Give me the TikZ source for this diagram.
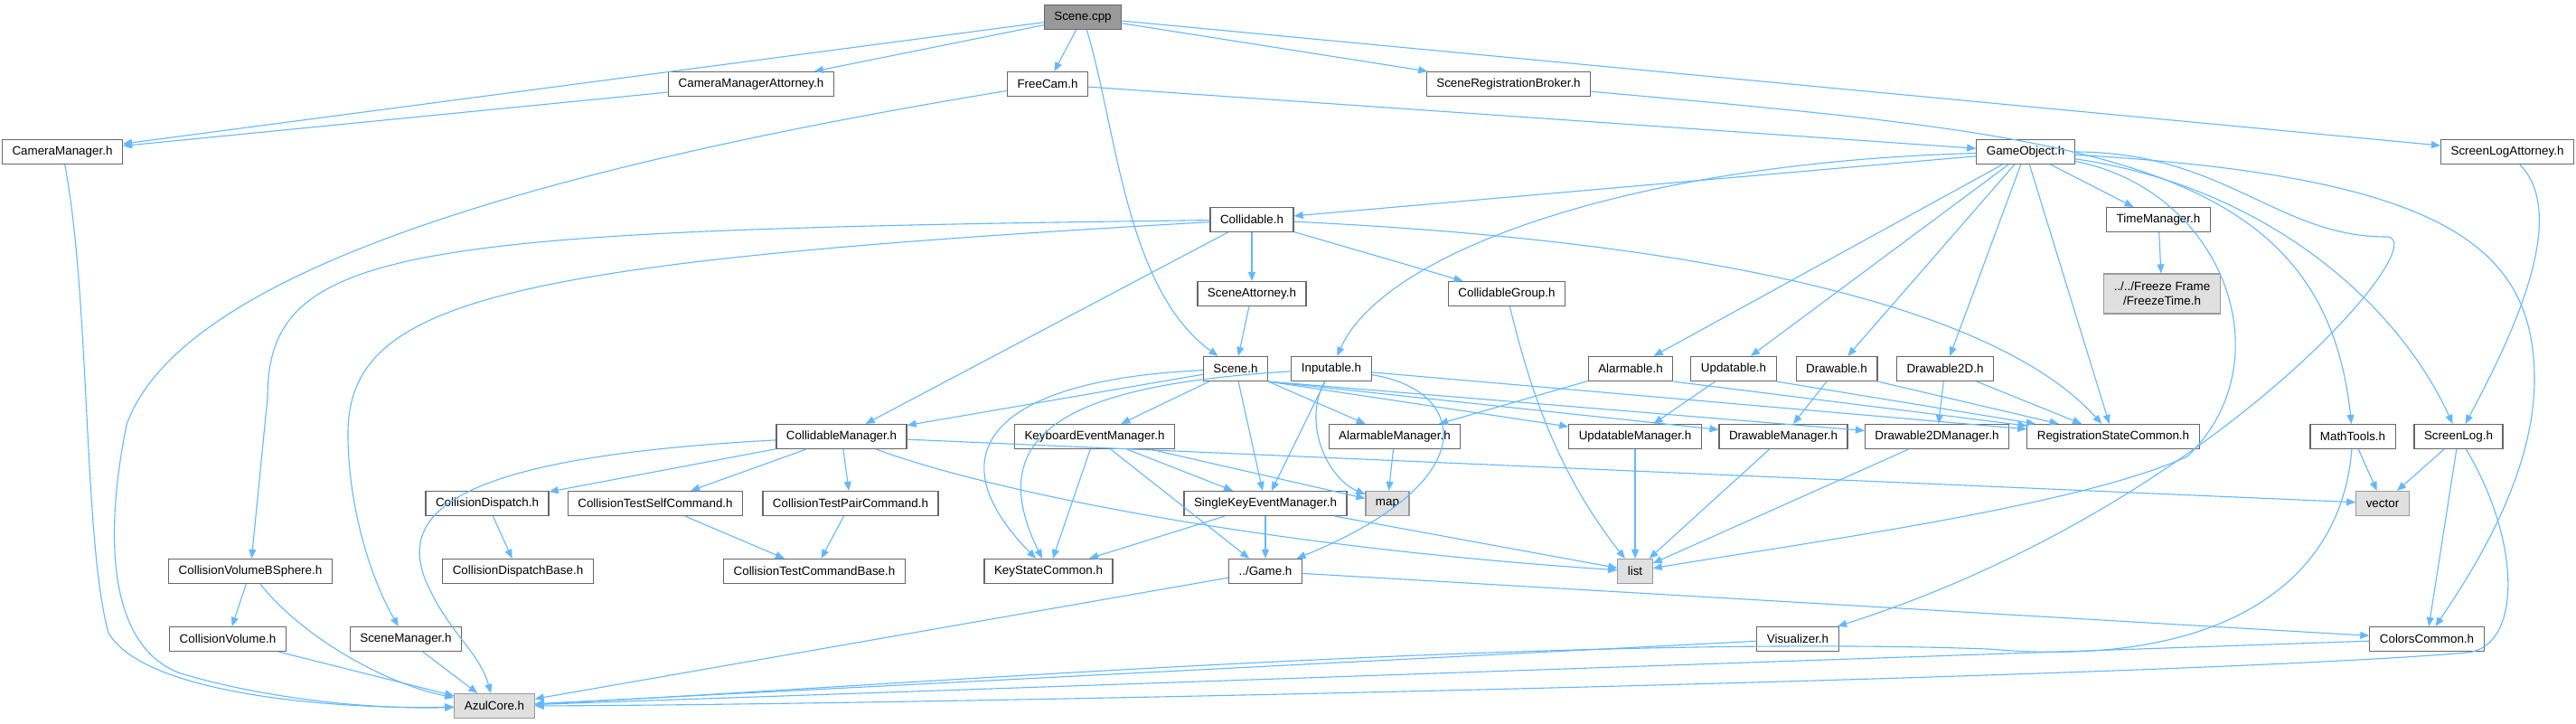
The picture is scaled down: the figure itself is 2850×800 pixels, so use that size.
\documentclass[tikz,border=0pt]{standalone}
\usepackage{fontspec}
\usepackage{xcolor}
\usepackage{tikz}
\usetikzlibrary{arrows.meta}
\newfontfamily\dotfont{Liberation Sans}
\definecolor{edgeblue}{HTML}{63B8FF}
\definecolor{boxline}{HTML}{666666}
\definecolor{extline}{HTML}{999999}
\definecolor{extfill}{HTML}{E0E0E0}
\definecolor{rootfill}{HTML}{999999}

\begin{document}
\begin{tikzpicture}[x=0.5pt, y=-0.5pt,
    file/.style={rectangle, draw=boxline, fill=white, line width=0.6pt, minimum height=13.5pt, inner xsep=5.5pt, inner ysep=1pt, font=\dotfont\fontsize{6.7}{8}\selectfont},
    ext/.style={file, draw=extline, fill=extfill},
    root/.style={file, fill=rootfill},
    inc/.style={-{Triangle[length=5pt, width=4pt]}, draw=edgeblue, line width=0.55pt}
]
\fill[white] (0,0) rectangle (2850,800);
\useasboundingbox (0,0) rectangle (2850,800);

\node[root] (scenecpp) at (1198,19) {Scene.cpp};
\node[file] (camatt) at (831,93) {CameraManagerAttorney.h};
\node[file] (freecam) at (1159,93) {FreeCam.h};
\node[file] (srb) at (1669,93) {SceneRegistrationBroker.h};
\node[file] (cammgr) at (69,168) {CameraManager.h};
\node[file] (gameobj) at (2241,168) {GameObject.h};
\node[file] (slatt) at (2774,168) {ScreenLogAttorney.h};
\node[file] (collidable) at (1385,243) {Collidable.h};
\node[file] (timemgr) at (2388,243) {TimeManager.h};
\node[file] (sceneatt) at (1385,325) {SceneAttorney.h};
\node[file] (cgroup) at (1667,325) {CollidableGroup.h};
\node[ext, align=center, minimum height=22pt] (freeze) at (2392,325) {../../Freeze Frame\\/FreezeTime.h};
\node[file] (sceneh) at (1367,408) {Scene.h};
\node[file] (inputable) at (1473,408) {Inputable.h};
\node[file] (alarmable) at (1804,408) {Alarmable.h};
\node[file] (updatable) at (1918,408) {Updatable.h};
\node[file] (drawable) at (2032,408) {Drawable.h};
\node[file] (drawable2d) at (2152,408) {Drawable2D.h};
\node[file] (colmgr) at (931,483) {CollidableManager.h};
\node[file] (kbdmgr) at (1211,483) {KeyboardEventManager.h};
\node[file] (alarmmgr) at (1543,483) {AlarmableManager.h};
\node[file] (updmgr) at (1809,483) {UpdatableManager.h};
\node[file] (drawmgr) at (1973,483) {DrawableManager.h};
\node[file] (draw2dmgr) at (2143,483) {Drawable2DManager.h};
\node[file] (regstate) at (2338,483) {RegistrationStateCommon.h};
\node[file] (mathtools) at (2603,483) {MathTools.h};
\node[file] (screenlog) at (2720,483) {ScreenLog.h};
\node[file] (dispatch) at (539,557) {CollisionDispatch.h};
\node[file] (testself) at (725,557) {CollisionTestSelfCommand.h};
\node[file] (testpair) at (941,557) {CollisionTestPairCommand.h};
\node[file] (singlekey) at (1400,557) {SingleKeyEventManager.h};
\node[ext] (map) at (1535,557) {map};
\node[ext] (vector) at (2636,557) {vector};
\node[file] (bsphere) at (277,632) {CollisionVolumeBSphere.h};
\node[file] (dispbase) at (573,632) {CollisionDispatchBase.h};
\node[file] (testbase) at (901,632) {CollisionTestCommandBase.h};
\node[file] (keystate) at (1160,632) {KeyStateCommon.h};
\node[file] (game) at (1400,632) {../Game.h};
\node[ext] (list) at (1809,632) {list};
\node[file] (colvol) at (252,707) {CollisionVolume.h};
\node[file] (scenemgr) at (449,707) {SceneManager.h};
\node[file] (visualizer) at (1989,707) {Visualizer.h};
\node[file] (colors) at (2685,707) {ColorsCommon.h};
\node[ext] (azul) at (547,781) {AzulCore.h};

\draw[inc] (scenecpp) -- (cammgr);
\draw[inc] (scenecpp) -- (camatt);
\draw[inc] (scenecpp) -- (freecam);
\draw[inc] (scenecpp) .. controls (1235,140) and (1245,320) .. (sceneh);
\draw[inc] (scenecpp) -- (srb);
\draw[inc] (scenecpp) -- (slatt);
\draw[inc] (camatt) -- (cammgr);
\draw[inc] (cammgr) .. controls (100,330) and (92,600) .. (120,700) .. controls (160,770) and (380,785) .. (azul);
\draw[inc] (freecam) .. controls (600,185) and (200,300) .. (140,470) .. controls (110,620) and (130,720) .. (200,745) .. controls (300,775) and (420,785) .. (azul);
\draw[inc] (freecam) -- (gameobj);
\draw[inc] (srb) .. controls (2300,150) and (2570,170) .. (mathtools);
\draw[inc] (slatt) .. controls (2845,240) and (2775,380) .. (screenlog);

\draw[inc] (gameobj) -- (collidable);
\draw[inc] (gameobj) .. controls (1800,180) and (1530,280) .. (inputable);
\draw[inc] (gameobj) -- (alarmable);
\draw[inc] (gameobj) -- (updatable);
\draw[inc] (gameobj) -- (drawable);
\draw[inc] (gameobj) -- (drawable2d);
\draw[inc] (gameobj) -- (regstate);
\draw[inc] (gameobj) -- (timemgr);
\draw[inc] (gameobj) .. controls (2460,210) and (2530,400) .. (2420,505) .. controls (2300,560) and (2000,600) .. (list);
\draw[inc] (gameobj) .. controls (2460,168) and (2520,262) .. (2640,262) .. controls (2700,262) and (2450,560) .. (visualizer);
\draw[inc] (gameobj) .. controls (2500,205) and (2650,330) .. (screenlog);
\draw[inc] (gameobj) .. controls (2700,195) and (2804,270) .. (2804,420) .. controls (2804,530) and (2730,640) .. (colors);
\draw[inc] (timemgr) -- (freeze);

\draw[inc] (collidable) -- (sceneatt);
\draw[inc] (collidable) -- (cgroup);
\draw[inc] (collidable) -- (colmgr);
\draw[inc] (collidable) .. controls (450,255) and (296,270) .. (296,440) -- (bsphere);
\draw[inc] (collidable) .. controls (560,290) and (385,330) .. (385,480) .. controls (385,560) and (410,640) .. (scenemgr);
\draw[inc] (collidable) .. controls (1850,265) and (2200,330) .. (regstate);
\draw[inc] (sceneatt) -- (sceneh);
\draw[inc] (cgroup) .. controls (1690,420) and (1720,520) .. (list);

\draw[inc] (sceneh) -- (colmgr);
\draw[inc] (sceneh) -- (kbdmgr);
\draw[inc] (sceneh) -- (singlekey);
\draw[inc] (sceneh) .. controls (1100,420) and (1030,500) .. (keystate);
\draw[inc] (sceneh.south east) -- (alarmmgr);
\draw[inc] (sceneh.south east) -- (updmgr);
\draw[inc] (sceneh.south east) -- (drawmgr);
\draw[inc] (sceneh.south east) -- (draw2dmgr);
\draw[inc] (inputable) .. controls (1200,425) and (1080,470) .. (keystate);
\draw[inc] (inputable) -- (singlekey);
\draw[inc] (inputable) .. controls (1440,470) and (1470,530) .. (map);
\draw[inc] (inputable) .. controls (1620,430) and (1650,530) .. (game);
\draw[inc] (inputable) -- (regstate);
\draw[inc] (alarmable) -- (alarmmgr);
\draw[inc] (alarmable.south east) -- (regstate);
\draw[inc] (updatable) -- (updmgr);
\draw[inc] (updatable.south east) -- (regstate);
\draw[inc] (drawable) -- (drawmgr);
\draw[inc] (drawable.south east) -- (regstate);
\draw[inc] (drawable2d) -- (draw2dmgr);
\draw[inc] (drawable2d) -- (regstate);

\draw[inc] (colmgr) .. controls (520,505) and (440,560) .. (470,640) .. controls (495,700) and (530,720) .. (azul);
\draw[inc] (colmgr) -- (dispatch);
\draw[inc] (colmgr) -- (testself);
\draw[inc] (colmgr) -- (testpair);
\draw[inc] (colmgr) .. controls (1100,545) and (1400,605) .. (list);
\draw[inc] (colmgr) -- (vector);
\draw[inc] (kbdmgr) -- (singlekey);
\draw[inc] (kbdmgr) -- (keystate);
\draw[inc] (kbdmgr) -- (game);
\draw[inc] (kbdmgr) -- (map);
\draw[inc] (alarmmgr) -- (map);
\draw[inc] (updmgr) -- (list);
\draw[inc] (drawmgr) -- (list);
\draw[inc] (draw2dmgr) -- (list);
\draw[inc] (mathtools) -- (vector);
\draw[inc] (mathtools) .. controls (2590,650) and (2450,740) .. (2200,718) .. controls (1700,700) and (900,765) .. (azul);
\draw[inc] (screenlog) -- (vector);
\draw[inc] (screenlog) -- (colors);
\draw[inc] (screenlog) .. controls (2790,600) and (2790,715) .. (2730,722) .. controls (2400,750) and (1000,780) .. (azul);

\draw[inc] (dispatch) -- (dispbase);
\draw[inc] (testself) -- (testbase);
\draw[inc] (testpair) -- (testbase);
\draw[inc] (singlekey) -- (keystate);
\draw[inc] (singlekey) -- (game);
\draw[inc] (singlekey) -- (list);
\draw[inc] (bsphere) -- (colvol);
\draw[inc] (bsphere) .. controls (330,700) and (420,755) .. (azul);
\draw[inc] (colvol) -- (azul);
\draw[inc] (scenemgr) -- (azul);
\draw[inc] (game) -- (azul);
\draw[inc] (game) -- (colors);
\draw[inc] (visualizer) -- (azul);
\draw[inc] (colors) -- (azul);
\end{tikzpicture}
\end{document}
